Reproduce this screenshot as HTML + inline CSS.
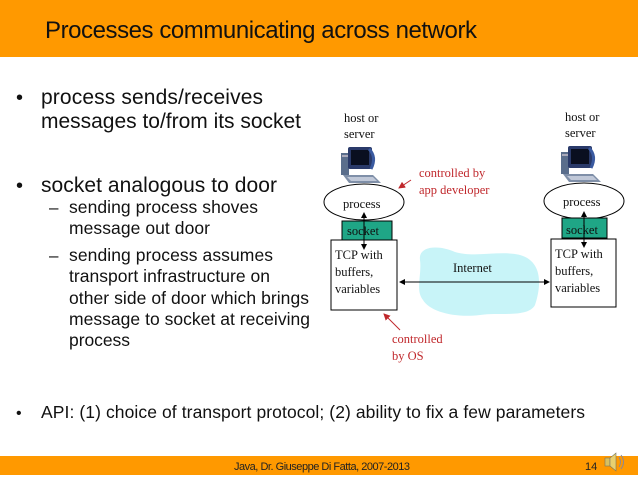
<!DOCTYPE html>
<html><head><meta charset="utf-8"><style>
html,body{margin:0;padding:0;background:#fff;width:638px;height:479px;overflow:hidden}
svg{display:block}
.s{font-family:"Liberation Sans",Arial,sans-serif}
.r{font-family:"Liberation Serif","Times New Roman",serif;font-size:12.5px}
</style></head><body>
<svg width="638" height="479" viewBox="0 0 638 479" xmlns="http://www.w3.org/2000/svg">
<defs>
<marker id="a" markerWidth="6" markerHeight="6" refX="5" refY="3" orient="auto"><path d="M0,0 L6,3 L0,6 z" fill="#000"/></marker>
<marker id="ar" markerWidth="7" markerHeight="7" refX="6" refY="3.5" orient="auto"><path d="M0,0 L7,3.5 L0,7 z" fill="#c0282c"/></marker>
<g id="pc">
<rect x="0" y="6" width="8" height="22" fill="#5a6e8c"/>
<rect x="1" y="8" width="6" height="2" fill="#aab"/>
<rect x="7" y="0" width="24" height="22" rx="2" fill="#2a3a6a"/>
<rect x="10" y="3" width="18" height="15" fill="#0a0f20"/>
<path d="M28,2 Q36,10 30,22" stroke="#3a5aa0" stroke-width="3" fill="none"/>
<path d="M2,28 L32,28 L40,36 L8,36 z" fill="#7f8fa8"/>
<path d="M6,30 L32,30 L36,34 L10,34 z" fill="#c0c8d8"/>
</g>
</defs>
<rect x="0" y="0" width="638" height="57" fill="#ff9900"/>
<text class="s" x="45" y="38" font-size="24" fill="#111" textLength="432">Processes communicating across network</text>

<g class="s" fill="#111">
<text x="16" y="104" font-size="20">•</text>
<text x="41" y="104" font-size="21" textLength="222">process sends/receives</text>
<text x="41" y="128" font-size="21" textLength="260">messages to/from its socket</text>
<text x="16" y="192" font-size="20">•</text>
<text x="41" y="192" font-size="21" textLength="236">socket analogous to door</text>
<text x="49" y="213" font-size="17">–</text>
<text x="69" y="213" font-size="17.5" textLength="189">sending process shoves</text>
<text x="69" y="234" font-size="17.5" textLength="141">message out door</text>
<text x="49" y="261" font-size="17">–</text>
<text x="69" y="261" font-size="17.5" textLength="204">sending process assumes</text>
<text x="69" y="282" font-size="17.5" textLength="201">transport infrastructure on</text>
<text x="69" y="304" font-size="17.5" textLength="240">other side of door which brings</text>
<text x="69" y="325" font-size="17.5" textLength="241">message to socket at receiving</text>
<text x="69" y="346" font-size="17.5" textLength="61">process</text>
<text x="16" y="418" font-size="16">•</text>
<text x="41" y="418" font-size="17.5" textLength="544">API: (1) choice of transport protocol; (2) ability to fix a few parameters</text>
</g>

<path d="M420,260 C418,245 440,245 455,252 C475,258 500,250 520,255 C545,262 540,290 535,305 C528,318 500,312 480,315 C455,318 430,312 423,300 C415,290 422,275 420,260 z" fill="#c8f4f8"/>
<text class="r" x="453" y="272" fill="#111">Internet</text>

<g class="r" fill="#111">
<text x="344" y="122">host or</text><text x="344" y="138">server</text>
<text x="565" y="121">host or</text><text x="565" y="137">server</text>
</g>
<use href="#pc" x="341" y="147"/>
<use href="#pc" x="561" y="146"/>

<ellipse cx="364" cy="202" rx="40" ry="18" fill="#fff" stroke="#000"/>
<ellipse cx="584" cy="201" rx="40" ry="18" fill="#fff" stroke="#000"/>
<rect x="331" y="240" width="66" height="70" fill="#fff" stroke="#000"/>
<rect x="551" y="239" width="65" height="68" fill="#fff" stroke="#000"/>
<rect x="342" y="221" width="50" height="19" fill="#1fa686" stroke="#000"/>
<rect x="562" y="218" width="45" height="20" fill="#1fa686" stroke="#000"/>
<g class="r" fill="#111">
<text x="343" y="208">process</text>
<text x="563" y="206">process</text>
<text x="347" y="235">socket</text>
<text x="566" y="234">socket</text>
<text x="335" y="259">TCP with</text><text x="335" y="276">buffers,</text><text x="335" y="293">variables</text>
<text x="555" y="258">TCP with</text><text x="555" y="275">buffers,</text><text x="555" y="292">variables</text>
</g>
<line x1="364" y1="230" x2="364" y2="213" stroke="#000" marker-end="url(#a)"/>
<line x1="364" y1="230" x2="364" y2="249" stroke="#000" marker-end="url(#a)"/>
<line x1="584" y1="228" x2="584" y2="212" stroke="#000" marker-end="url(#a)"/>
<line x1="584" y1="228" x2="584" y2="247" stroke="#000" marker-end="url(#a)"/>
<line x1="420" y1="282" x2="400" y2="282" stroke="#000" marker-end="url(#a)"/>
<line x1="420" y1="282" x2="549" y2="282" stroke="#000" marker-end="url(#a)"/>

<g class="r" fill="#c0282c">
<text x="419" y="177">controlled by</text>
<text x="419" y="194">app developer</text>
<text x="392" y="343">controlled</text>
<text x="392" y="360">by OS</text>
</g>
<line x1="411" y1="180" x2="399" y2="188" stroke="#c0282c" marker-end="url(#ar)"/>
<line x1="400" y1="330" x2="384" y2="314" stroke="#c0282c" marker-end="url(#ar)"/>

<rect x="0" y="456" width="638" height="19" fill="#ff9900"/>
<text class="s" x="234" y="470" font-size="11" fill="#222" textLength="176">Java, Dr. Giuseppe Di Fatta, 2007-2013</text>
<text class="s" x="585" y="470" font-size="11" fill="#222">14</text>
<g transform="translate(605,452)">
<rect x="0" y="6" width="5" height="8" fill="#d8c060" stroke="#776" stroke-width="0.6"/>
<path d="M5,6 L11,1 L11,19 L5,14 z" fill="#e8d070" stroke="#776" stroke-width="0.6"/>
<path d="M14,5 Q17,10 14,15 M16,3 Q21,10 16,17" stroke="#889" fill="none"/>
</g>
</svg>
</body></html>
